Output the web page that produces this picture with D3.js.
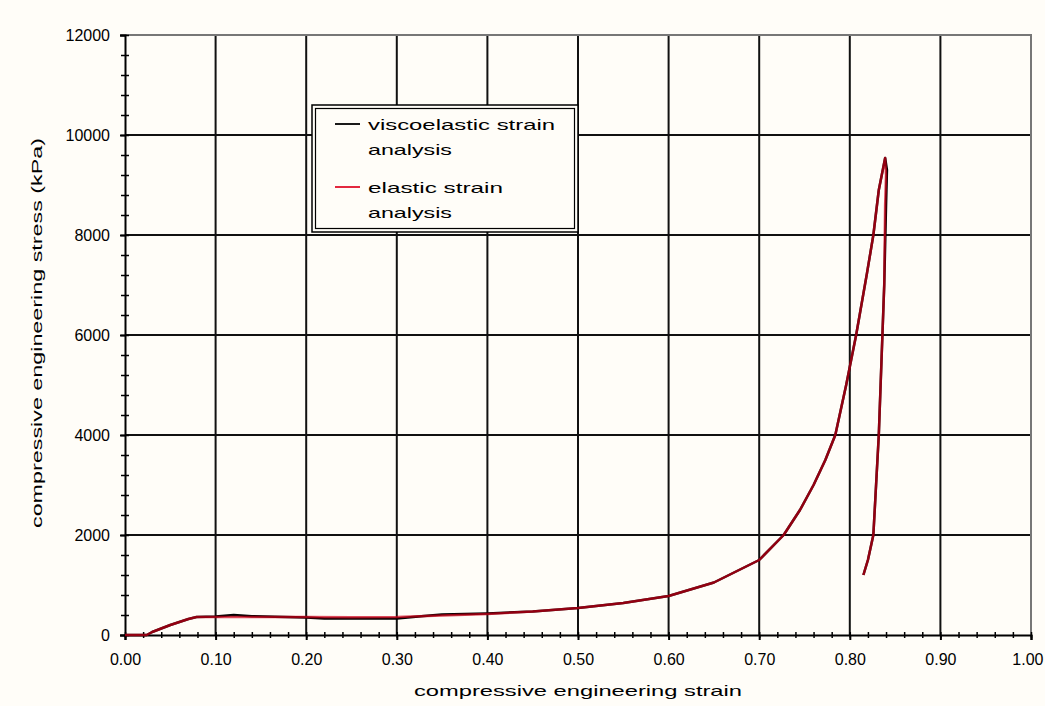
<!DOCTYPE html>
<html>
<head>
<meta charset="utf-8">
<script src="https://cdn.jsdelivr.net/npm/d3@7"></script>
<style>
  html, body { margin: 0; padding: 0; background: #fffdf8; }
  svg { display: block; }
  text { font-family: "Liberation Sans", Arial, sans-serif; fill: #000; }
</style>
</head>
<body>
<svg id="chart" width="1045" height="706"></svg>
<script>
// ---- data ----
const viscoStrain = [0, 0.024, 0.03, 0.04, 0.05, 0.06, 0.07, 0.079, 0.10, 0.12, 0.14, 0.20, 0.22, 0.30, 0.33, 0.35, 0.40, 0.45, 0.50, 0.55, 0.60, 0.65, 0.70, 0.727, 0.745, 0.760, 0.773, 0.784, 0.796, 0.807, 0.819, 0.826, 0.832, 0.839, 0.841, 0.840, 0.838, 0.836, 0.832, 0.826, 0.820, 0.815];
const viscoStress = [0, 0, 60, 130, 200, 260, 320, 360, 370, 400, 375, 350, 330, 330, 380, 410, 430, 470, 540, 640, 780, 1050, 1500, 2000, 2500, 3000, 3500, 4000, 5000, 6000, 7240, 8000, 8900, 9540, 9300, 8600, 7000, 6000, 4000, 2000, 1500, 1200];
const elasticStrain = [0, 0.024, 0.03, 0.04, 0.05, 0.06, 0.07, 0.079, 0.10, 0.15, 0.20, 0.25, 0.30, 0.35, 0.40, 0.45, 0.50, 0.55, 0.60, 0.65, 0.70, 0.727, 0.745, 0.760, 0.773, 0.784, 0.796, 0.807, 0.819, 0.826, 0.832, 0.839, 0.840, 0.839, 0.838, 0.836, 0.832, 0.826, 0.820, 0.815];
const elasticStress = [0, 0, 60, 130, 200, 260, 320, 360, 360, 360, 360, 355, 360, 390, 420, 470, 540, 640, 780, 1050, 1500, 2000, 2500, 3000, 3500, 4000, 5000, 6000, 7240, 8000, 8900, 9540, 9200, 8600, 7000, 6000, 4000, 2000, 1500, 1200];
const xTicks = [0, 0.1, 0.2, 0.3, 0.4, 0.5, 0.6, 0.7, 0.8, 0.9, 1.0];
const yTicks = [0, 2000, 4000, 6000, 8000, 10000, 12000];
const seriesNames = ["viscoelastic strain analysis", "elastic strain analysis"];
const xTitle = "compressive engineering strain";
const yTitle = "compressive engineering stress (kPa)";

// ---- layout ----
const svg = d3.select("#chart");
const L = 125, R = 1031, T = 35, B = 635;
const x = d3.scaleLinear().domain([0, 1]).range([L, R]);
const y = d3.scaleLinear().domain([0, 12000]).range([B, T]);

svg.append("rect").attr("width", 1045).attr("height", 706).attr("fill", "#fffdf8");

// gridlines
const g = svg.append("g");
g.selectAll("line.vg").data(xTicks.filter(d => d > 0 && d < 1)).enter().append("line")
  .attr("x1", d => x(d)).attr("x2", d => x(d)).attr("y1", T).attr("y2", B)
  .attr("stroke", "#111").attr("stroke-width", 2);
g.selectAll("line.hg").data(yTicks.filter(d => d > 0 && d < 12000)).enter().append("line")
  .attr("x1", L).attr("x2", R).attr("y1", d => y(d)).attr("y2", d => y(d))
  .attr("stroke", "#111").attr("stroke-width", 2);
// top/right border (grey)
g.append("path").attr("d", `M${L},${T}H${R}V${B}`).attr("fill", "none")
  .attr("stroke", "#777").attr("stroke-width", 2);

// minor ticks
const xMinor = d3.range(0, 1.0001, 0.02);
const yMinor = d3.range(0, 12001, 400);
const xMinorAxis = d3.axisBottom(x).tickValues(xMinor).tickSize(4).tickFormat("");
const gxm = svg.append("g").attr("transform", `translate(0,${B - 3})`).call(xMinorAxis);
gxm.select(".domain").remove();
gxm.selectAll("line").attr("stroke", "#000").attr("stroke-width", 1.5).attr("y2", 6);
const yMinorAxis = d3.axisLeft(y).tickValues(yMinor).tickSize(4).tickFormat("");
const gym = svg.append("g").attr("transform", `translate(${L + 4},0)`).call(yMinorAxis);
gym.select(".domain").remove();
gym.selectAll("line").attr("stroke", "#000").attr("stroke-width", 1.5).attr("x2", -8);

// major axes
const xAxis = d3.axisBottom(x).tickValues(xTicks).tickSize(5).tickPadding(14).tickFormat(d3.format(".2f"));
const gx = svg.append("g").attr("transform", `translate(0,${B})`).call(xAxis);
gx.select(".domain").attr("stroke", "#000").attr("stroke-width", 2);
gx.selectAll("line").attr("stroke", "#000").attr("stroke-width", 2);
gx.selectAll("text").attr("font-size", 16).attr("font-family", "Liberation Sans, Arial, sans-serif").attr("fill", "#000");
gx.selectAll(".tick").filter(d => d === 1).select("text")
  .attr("text-anchor", "end").attr("dx", 12);

const yAxis = d3.axisLeft(y).tickValues(yTicks).tickSize(5).tickPadding(10).tickFormat(d3.format("d"));
const gy = svg.append("g").attr("transform", `translate(${L},0)`).call(yAxis);
gy.select(".domain").attr("stroke", "#000").attr("stroke-width", 2);
gy.selectAll("line").attr("stroke", "#000").attr("stroke-width", 2);
gy.selectAll("text").attr("font-size", 16).attr("font-family", "Liberation Sans, Arial, sans-serif").attr("fill", "#000");

// titles
svg.append("text").attr("x", (L + R) / 2).attr("y", 696).attr("text-anchor", "middle")
  .attr("font-size", 15).attr("textLength", 328).attr("lengthAdjust", "spacingAndGlyphs").text(xTitle);
svg.append("text").attr("transform", `translate(42,${(T + B) / 2 - 2}) rotate(-90)`).attr("text-anchor", "middle")
  .attr("font-size", 15).attr("textLength", 390).attr("lengthAdjust", "spacingAndGlyphs").text(yTitle);

// curves
const line = d3.line().x(d => x(d[0])).y(d => y(d[1]));
const viscoData = viscoStrain.map((s, i) => [s, viscoStress[i]]);
const elasticData = elasticStrain.map((s, i) => [s, elasticStress[i]]);
svg.append("path").datum(viscoData).attr("d", line).attr("fill", "none")
  .attr("stroke", "#000").attr("stroke-width", 2.5).attr("stroke-linejoin", "round");
svg.append("path").datum(elasticData).attr("d", line).attr("fill", "none")
  .attr("stroke", "#d00018").attr("stroke-opacity", 0.7).attr("stroke-width", 2.5).attr("stroke-linejoin", "round");

// legend
const lg = svg.append("g");
lg.append("rect").attr("x", 312).attr("y", 105).attr("width", 266).attr("height", 127)
  .attr("fill", "#fffdf8").attr("stroke", "#000").attr("stroke-width", 1.5);
lg.append("rect").attr("x", 315.5).attr("y", 108.5).attr("width", 259).attr("height", 120)
  .attr("fill", "none").attr("stroke", "#000").attr("stroke-width", 1.2);
const legendColors = ["#000", "#e0102a"];
const legendY = [124, 187];
const legendLines = [["viscoelastic strain", "analysis"], ["elastic strain", "analysis"]];
const legendLen = [[187, 84], [135, 84]];
seriesNames.forEach((name, i) => {
  lg.append("line").attr("x1", 335).attr("x2", 360).attr("y1", legendY[i]).attr("y2", legendY[i])
    .attr("stroke", legendColors[i]).attr("stroke-width", 1.8);
  const t = lg.append("text").attr("font-size", 15);
  legendLines[i].forEach((ln, j) => {
    t.append("tspan").attr("x", 368).attr("y", legendY[i] + 6 + j * 25)
      .attr("textLength", legendLen[i][j]).attr("lengthAdjust", "spacingAndGlyphs").text(ln);
  });
});
</script>
</body>
</html>
